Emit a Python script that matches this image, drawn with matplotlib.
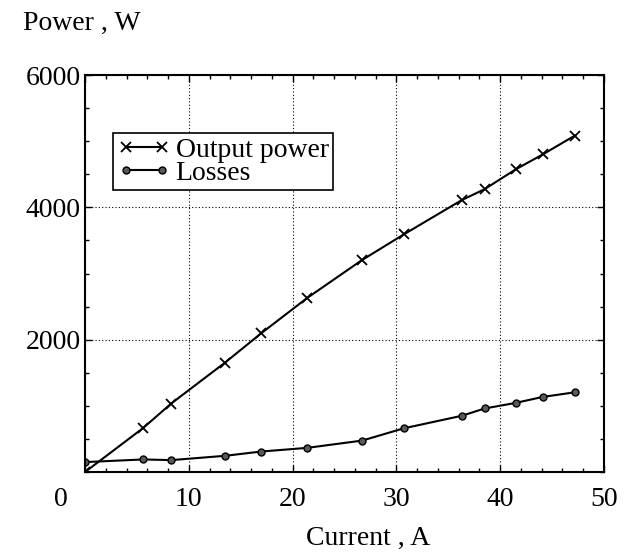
import numpy as np
import matplotlib.pyplot as plt
import matplotlib as mpl
from matplotlib.transforms import ScaledTranslation

mpl.rcParams['font.family'] = ['Liberation Serif', 'DejaVu Serif']

current = [0, 5.6, 8.3, 13.5, 17.0, 21.4, 26.7, 30.7, 36.3, 38.5, 41.5, 44.1, 47.2]
output_power = [0, 665, 1035, 1655, 2100, 2630, 3205, 3590, 4110, 4275, 4575, 4800, 5085]
losses = [150, 190, 180, 245, 310, 365, 475, 660, 850, 960, 1045, 1135, 1205]
x_ticks = [0, 10, 20, 30, 40, 50]
y_ticks = [2000, 4000, 6000]

fs = 20

fig = plt.figure(figsize=(6.27, 5.59), dpi=100)
ax = fig.add_axes([0.1356, 0.1556, 0.8277, 0.7102])

ax.plot(current, output_power, color='k', lw=1.5, marker='x', ms=7, mew=1.3,
        label='Output power')
ax.plot(current, losses, color='k', lw=1.5, marker='o', ms=5, mfc='0.35', mec='k',
        mew=1.0, label='Losses')

ax.set_xlim(0, 50)
ax.set_ylim(0, 6000)
ax.set_xticks(x_ticks)
ax.set_yticks(y_ticks)
ax.set_xticks(np.arange(0, 51, 2), minor=True)
ax.set_yticks(np.arange(0, 6001, 500), minor=True)
ax.tick_params(which='both', direction='in', top=True, right=True, width=1.0)
ax.tick_params(which='major', length=5, labelsize=fs)
ax.tick_params(which='minor', length=3)
ax.tick_params(axis='x', pad=11)
ax.tick_params(axis='y', pad=3)

# the zero sits off to the left of the axis corner
lbl0 = ax.get_xticklabels()[0]
lbl0.set_transform(lbl0.get_transform() + ScaledTranslation(-0.24, 0, fig.dpi_scale_trans))

ax.grid(True, which='major', color='k', linestyle=(0, (1, 2)), linewidth=0.8)
for sp in ax.spines.values():
    sp.set_linewidth(1.5)

leg = ax.legend(loc='upper left', bbox_to_anchor=(0.054, 0.853), numpoints=2,
                fontsize=fs, frameon=True, fancybox=False, edgecolor='k',
                framealpha=1, handlelength=1.9, handletextpad=0.2,
                labelspacing=-0.1, borderpad=0.15, borderaxespad=0)
leg.get_frame().set_linewidth(1.2)

fig.text(23 / 627, 1 - 30 / 559, 'Power , W', fontsize=fs, ha='left', va='baseline')
fig.text(368 / 627, 1 - 545 / 559, 'Current , A', fontsize=fs, ha='center', va='baseline')

fig.savefig('out.png', dpi=100)
